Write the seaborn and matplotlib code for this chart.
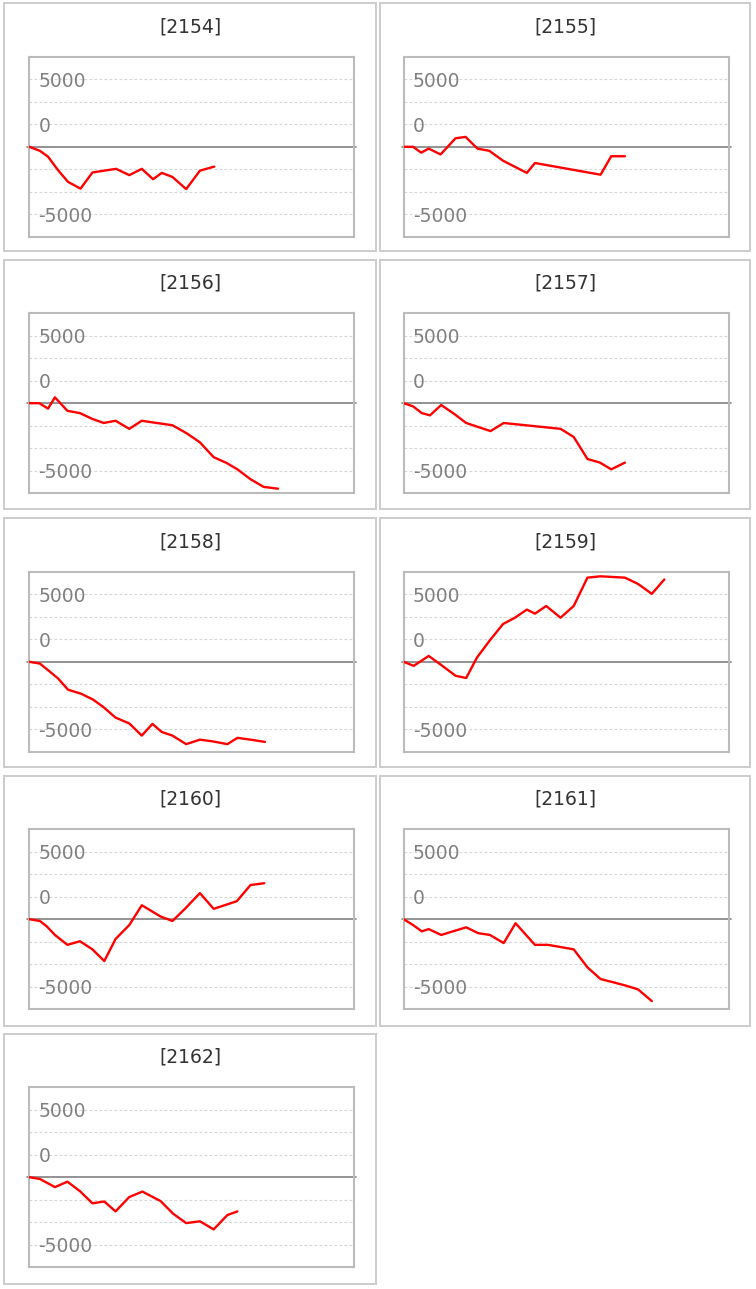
import numpy as np
import pandas as pd
import matplotlib
matplotlib.use("Agg")
import matplotlib.pyplot as plt
import seaborn as sns
from matplotlib.patches import Rectangle

# ---- data (x in period units, 26 per plot width; y in value units) ----
codes = ["2154", "2155", "2156", "2157", "2158", "2159", "2160", "2161", "2162"]

x_2154 = [0, 0.85, 1.5, 2.3, 3.1, 4.1, 5.05, 6.95, 8.0, 9.0, 9.9, 10.6, 11.45, 12.55, 13.65, 14.8]
y_2154 = [0, -450, -1100, -2600, -3900, -4650, -2850, -2450, -3150, -2450, -3600, -2900, -3350, -4700, -2650, -2200]

x_2155 = [0, 0.75, 1.4, 2.0, 2.95, 4.15, 4.95, 5.9, 6.85, 7.95, 9.85, 10.5, 15.75, 16.6, 17.7]
y_2155 = [0, 0, -650, -200, -850, 950, 1100, -200, -450, -1550, -2900, -1800, -3100, -1050, -1050]

x_2156 = [0, 0.8, 1.5, 2.05, 3.05, 4.05, 5.05, 5.95, 6.9, 8.0, 9.0, 10.2, 11.45, 12.6, 13.65,
          14.75, 15.8, 16.65, 17.7, 18.75, 19.9]
y_2156 = [0, 0, -600, 650, -850, -1100, -1750, -2200, -1950, -2850, -1950, -2200, -2450, -3350, -4350,
          -6000, -6650, -7350, -8450, -9300, -9500]

x_2157 = [0, 0.75, 1.45, 2.1, 3.0, 4.05, 5.0, 6.95, 8.0, 12.55, 13.6, 14.7, 15.7, 16.6, 17.7]
y_2157 = [0, -350, -1100, -1350, -200, -1200, -2200, -3100, -2200, -2850, -3750, -6200, -6600, -7350, -6600]

x_2158 = [0, 0.85, 1.65, 2.3, 3.1, 4.15, 5.1, 5.9, 6.9, 8.0, 9.0, 9.85, 10.6, 11.45, 12.55,
          13.65, 14.7, 15.85, 16.65, 17.7, 18.85]
y_2158 = [0, -200, -1100, -1850, -3100, -3550, -4200, -5000, -6200, -6850, -8200, -6900, -7800, -8200, -9150,
          -8650, -8850, -9150, -8450, -8650, -8900]

x_2159 = [0, 0.8, 2.0, 3.0, 4.15, 5.0, 5.85, 6.9, 7.95, 8.9, 9.85, 10.5, 11.4, 12.55, 13.6,
          14.7, 15.75, 17.7, 18.75, 19.85, 20.85]
y_2159 = [0, -450, 650, -350, -1550, -1800, 450, 2400, 4200, 4900, 5800, 5350, 6200, 4900, 6200,
          9350, 9500, 9350, 8650, 7550, 9150]

x_2160 = [0, 0.85, 1.4, 2.05, 3.05, 4.05, 5.05, 6.0, 6.9, 8.0, 9.0, 10.5, 11.45, 12.45, 13.65,
          14.75, 16.6, 17.7, 18.8]
y_2160 = [0, -200, -800, -1750, -2850, -2450, -3350, -4650, -2200, -650, 1550, 300, -200, 1150, 2900,
          1150, 2000, 3800, 4000]

x_2161 = [0, 0.75, 1.45, 2.0, 3.0, 5.0, 5.95, 6.9, 8.0, 8.95, 10.5, 11.55, 13.6, 14.7, 15.75,
          16.6, 17.7, 18.75, 19.85]
y_2161 = [0, -650, -1350, -1100, -1750, -900, -1550, -1750, -2650, -450, -2850, -2850, -3350, -5350, -6650,
          -6950, -7350, -7800, -9100]

x_2162 = [0, 0.85, 2.05, 3.05, 4.05, 5.05, 6.0, 6.9, 8.0, 9.05, 10.5, 11.5, 12.55, 13.65, 14.75, 15.85, 16.65]
y_2162 = [0, -200, -1100, -500, -1550, -2900, -2700, -3800, -2200, -1600, -2650, -4050, -5100, -4900, -5800,
          -4200, -3800]

ytick_pos = [7500, 2500, -7500]
ytick_labels = ["5000", "0", "-5000"]
grid_pos = [-7500, -5000, -2500, 2500, 5000, 7500]

series = {
    "2154": (x_2154, y_2154), "2155": (x_2155, y_2155), "2156": (x_2156, y_2156),
    "2157": (x_2157, y_2157), "2158": (x_2158, y_2158), "2159": (x_2159, y_2159),
    "2160": (x_2160, y_2160), "2161": (x_2161, y_2161), "2162": (x_2162, y_2162),
}

# ---- layout (pixels) ----
W, H = 756, 1289
box_left = [4.3, 379.7]
box_right = [376.0, 750.3]
row_top = [3.3, 259.7, 518.3, 775.7, 1033.7]
row_bottom = [250.7, 509.0, 767.3, 1025.7, 1284.0]
plot_left = [29.3, 403.7]
plot_w, plot_h = 325, 180

sns.set_style("white")
plt.rcParams['font.family'] = ['DejaVu Sans']

fig = plt.figure(figsize=(W / 100, H / 100), dpi=100)

for i, code in enumerate(codes):
    row, col = i // 2, i % 2

    # panel box
    fig.add_artist(Rectangle(
        (box_left[col] / W, 1 - row_bottom[row] / H),
        (box_right[col] - box_left[col]) / W,
        (row_bottom[row] - row_top[row]) / H,
        transform=fig.transFigure, fill=False, edgecolor="#cccccc", linewidth=1.4))

    # title
    cx = (box_left[col] + box_right[col]) / 2
    fig.text(cx / W, 1 - (row_top[row] + 23.5) / H, f"[{code}]",
             ha="center", va="center", fontsize=13.5, color="#333333")

    ax = fig.add_axes([plot_left[col] / W, 1 - (row_top[row] + 53.5 + plot_h) / H,
                       plot_w / W, plot_h / H])

    for g in grid_pos:
        ax.axhline(g, color="#d6d6d6", linestyle=(0, (2.5, 2)), linewidth=0.8, zorder=0)
    ax.axhline(0, color="#808080", linewidth=1.2, zorder=1, xmin=-0.006, xmax=1.006, clip_on=False)

    xs, ys = series[code]
    df = pd.DataFrame({"x": xs, "y": ys})
    sns.lineplot(data=df, x="x", y="y", ax=ax, color="#ff0000", linewidth=1.7,
                 sort=False, estimator=None, zorder=3)

    ax.set_xlim(0, 26)
    ax.set_ylim(-10000, 10000)
    ax.set_xticks([])
    ax.set_xlabel("")
    ax.set_ylabel("")
    ax.set_yticks(ytick_pos)
    ax.set_yticklabels(ytick_labels)
    ax.tick_params(axis="y", length=0, pad=-6.5, labelsize=13.5, labelcolor="#808080")
    for lab in ax.get_yticklabels():
        lab.set_horizontalalignment("left")
    for s in ax.spines.values():
        s.set_visible(True)
        s.set_color("#bbbbbb")
        s.set_linewidth(1.5)

plt.savefig("out.png", dpi=100)
plt.close()
